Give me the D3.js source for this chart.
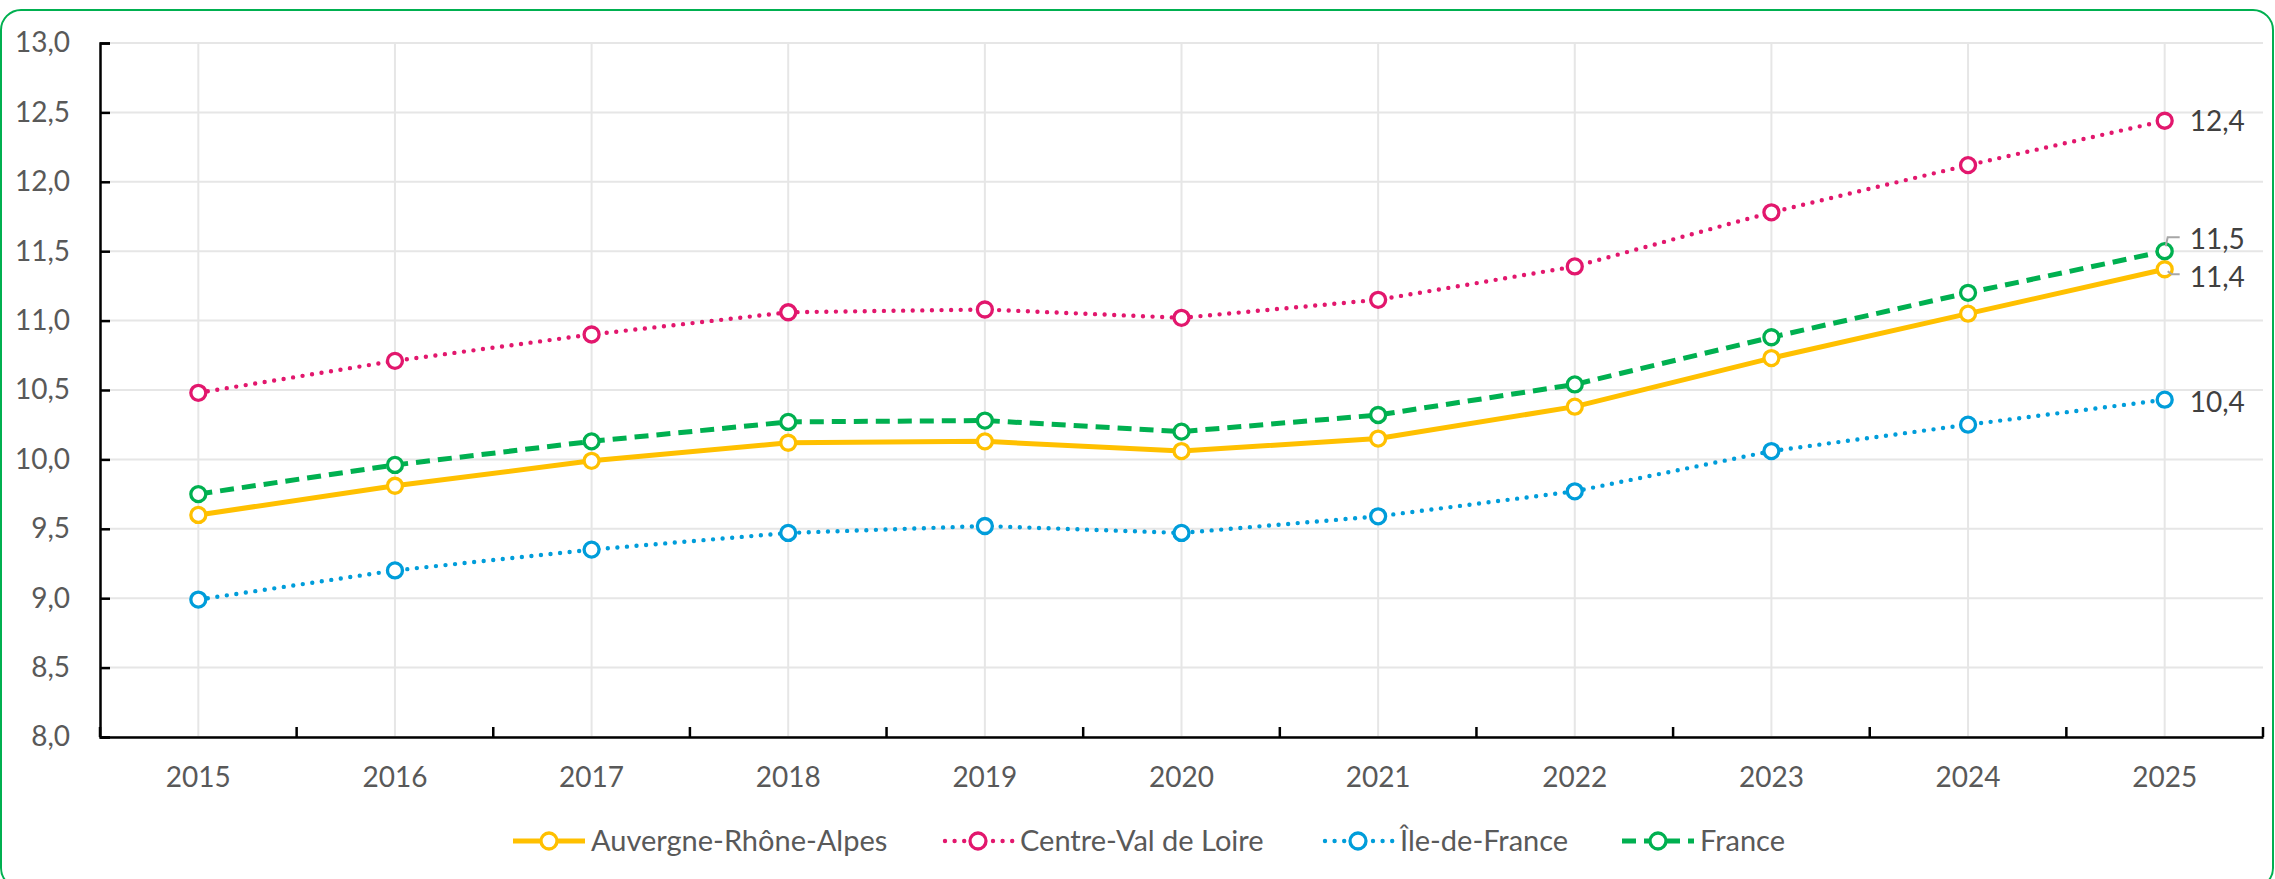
<!DOCTYPE html>
<html>
<head>
<meta charset="utf-8">
<script src="https://cdn.jsdelivr.net/npm/d3@7"></script>
<style>
  html, body { margin: 0; padding: 0; background: #fff; }
  svg { display: block; font-family: Lato, "Open Sans", sans-serif; }
</style>
</head>
<body>
<svg id="chart" width="2275" height="879"></svg>
<script>
const years = ["2015","2016","2017","2018","2019","2020","2021","2022","2023","2024","2025"];
const auvergne = [9.60, 9.81, 9.99, 10.12, 10.13, 10.06, 10.15, 10.38, 10.73, 11.05, 11.37];
const centre   = [10.48, 10.71, 10.90, 11.06, 11.08, 11.02, 11.15, 11.39, 11.78, 12.12, 12.44];
const idf      = [8.99, 9.20, 9.35, 9.47, 9.52, 9.47, 9.59, 9.77, 10.06, 10.25, 10.43];
const france   = [9.75, 9.96, 10.13, 10.27, 10.28, 10.20, 10.32, 10.54, 10.88, 11.20, 11.50];
const yTicks = [8.0, 8.5, 9.0, 9.5, 10.0, 10.5, 11.0, 11.5, 12.0, 12.5, 13.0];
const seriesNames = ["Auvergne-Rhône-Alpes", "Centre-Val de Loire", "Île-de-France", "France"];

(function () {
const series = [
  { name: seriesNames[0], values: auvergne, color: "#FFC000", dash: null, width: 5, cap: "butt" },
  { name: seriesNames[1], values: centre,   color: "#E2176D", dash: "0 9.6", width: 4.4, cap: "round" },
  { name: seriesNames[2], values: idf,      color: "#009DDA", dash: "0 9.6", width: 4.4, cap: "round" },
  { name: seriesNames[3], values: france,   color: "#00B050", dash: "14 8", width: 5, cap: "butt" }
];

const svg = d3.select("#chart");
const pL = 100, pR = 2263, pT = 43, pB = 737;
const fmt = v => d3.format(".1f")(v).replace(".", ",");

// outer rounded border
svg.append("rect")
  .attr("x", 1).attr("y", 10).attr("width", 2272).attr("height", 878)
  .attr("rx", 20).attr("ry", 20)
  .attr("fill", "none").attr("stroke", "#00B050").attr("stroke-width", 2);

const xBand = d3.scaleBand().domain(years).range([pL, pR]).padding(0);
const xc = d => xBand(d) + xBand.bandwidth() / 2;
const y = d3.scaleLinear().domain([8, 13]).range([pB, pT]);

// gridlines
const grid = svg.append("g");
grid.selectAll("line.h").data(yTicks).enter().append("line")
  .attr("x1", pL).attr("x2", pR)
  .attr("y1", d => y(d)).attr("y2", d => y(d))
  .attr("stroke", "#E6E6E6").attr("stroke-width", 2);
grid.selectAll("line.v").data(years).enter().append("line")
  .attr("x1", d => xc(d)).attr("x2", d => xc(d))
  .attr("y1", pT).attr("y2", pB)
  .attr("stroke", "#E6E6E6").attr("stroke-width", 2);

// y axis
const yAxis = svg.append("g").attr("transform", `translate(${pL},0)`)
  .call(d3.axisLeft(y).tickValues(yTicks).tickSize(-10).tickPadding(30).tickFormat(fmt));
yAxis.select(".domain").attr("stroke", "#000").attr("stroke-width", 2.5);
yAxis.selectAll(".tick line").attr("stroke", "#000").attr("stroke-width", 2.5);
yAxis.selectAll("text").attr("fill", "#595959").attr("font-size", 28).attr("font-family", "Lato");

// x axis labels
const xAxis = svg.append("g").attr("transform", `translate(0,${pB})`)
  .call(d3.axisBottom(xBand).tickSize(0).tickPadding(30));
xAxis.select(".domain").attr("stroke", "#000").attr("stroke-width", 2.5);
xAxis.selectAll("text").attr("fill", "#595959").attr("font-size", 28).attr("font-family", "Lato");
// boundary ticks
const bounds = years.map(d => xBand(d)).concat([xBand(years[years.length - 1]) + xBand.bandwidth()]);
svg.append("g").selectAll("line").data(bounds).enter().append("line")
  .attr("x1", d => d).attr("x2", d => d)
  .attr("y1", pB).attr("y2", pB - 10)
  .attr("stroke", "#000").attr("stroke-width", 2.5);

// lines
const line = d3.line().x((d, i) => xc(years[i])).y(d => y(d));
series.forEach(s => {
  const g = svg.append("g");
  g.append("path").datum(s.values)
    .attr("d", line).attr("fill", "none")
    .attr("stroke", s.color).attr("stroke-width", s.width)
    .attr("stroke-linecap", s.cap)
    .attr("stroke-linejoin", "round")
    .attr("stroke-dasharray", s.dash);
  g.selectAll("circle").data(s.values).enter().append("circle")
    .attr("cx", (d, i) => xc(years[i])).attr("cy", d => y(d))
    .attr("r", 7.5).attr("fill", "#fff")
    .attr("stroke", s.color).attr("stroke-width", 3.3);
});

// data labels at last point
const lastX = xc(years[years.length - 1]);
const labelX = lastX + 25;
const labelDefs = [
  { v: centre[10], dy: 0 },
  { v: france[10], dy: -12 },
  { v: auvergne[10], dy: 8 },
  { v: idf[10], dy: 2 }
];
labelDefs.forEach(l => {
  svg.append("text")
    .attr("x", labelX).attr("y", y(l.v) + l.dy)
    .attr("dy", "0.35em")
    .attr("font-size", 28).attr("fill", "#404040")
    .text(fmt(l.v));
});
// leader lines
const ly5 = y(france[10]);
svg.append("path")
  .attr("d", `M${lastX + 1},${ly5 - 5} L${lastX + 3},${ly5 - 14} L${lastX + 15},${ly5 - 14}`)
  .attr("fill", "none").attr("stroke", "#A6A6A6").attr("stroke-width", 2);
const ly4 = y(auvergne[10]);
svg.append("path")
  .attr("d", `M${lastX + 3},${ly4 + 2} L${lastX + 7},${ly4 + 5} L${lastX + 15},${ly4 + 5}`)
  .attr("fill", "none").attr("stroke", "#A6A6A6").attr("stroke-width", 2);

// legend
const legY = 841;
const legStarts = [513, 942, 1322, 1622];
series.forEach((s, i) => {
  const lx = legStarts[i];
  const g = svg.append("g");
  g.append("line")
    .attr("x1", lx + (s.cap === "round" ? 3 : 0)).attr("x2", lx + 72)
    .attr("y1", legY).attr("y2", legY)
    .attr("stroke", s.color).attr("stroke-width", s.width)
    .attr("stroke-linecap", s.cap)
    .attr("stroke-dasharray", s.dash ? (s.cap === "round" ? "0 9.6" : "14 8") : null);
  g.append("circle").attr("cx", lx + 36).attr("cy", legY).attr("r", 8)
    .attr("fill", "#fff").attr("stroke", s.color).attr("stroke-width", 3.3);
  g.append("text").attr("x", lx + 78).attr("y", legY).attr("dy", "0.35em")
    .attr("font-size", 29).attr("fill", "#595959").text(s.name);
});
})();
</script>
</body>
</html>
